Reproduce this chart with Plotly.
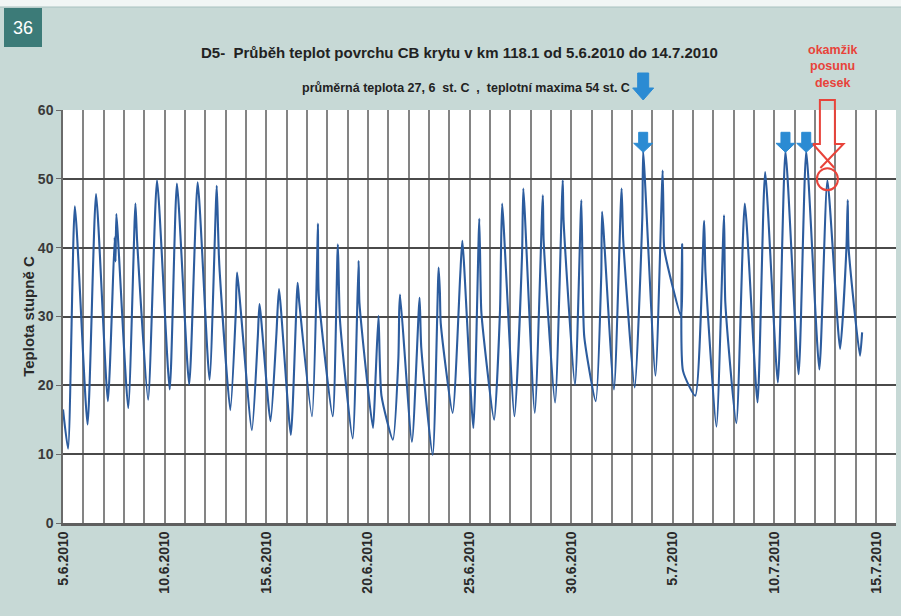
import plotly.graph_objects as go

# Surface temperature of the CB pavement, km 118.1 (readings: time, deg C)
times = [
    "2010-06-05 00:00", "2010-06-05 06:00", "2010-06-05 14:00",
    "2010-06-06 05:00", "2010-06-06 15:00",
    "2010-06-07 05:00", "2010-06-07 13:00", "2010-06-07 14:00", "2010-06-07 15:00",
    "2010-06-08 05:00", "2010-06-08 13:30", "2010-06-08 15:30",
    "2010-06-09 04:30", "2010-06-09 15:00",
    "2010-06-10 06:00", "2010-06-10 14:30",
    "2010-06-11 05:00", "2010-06-11 15:00",
    "2010-06-12 05:00", "2010-06-12 13:30", "2010-06-12 15:00", "2010-06-12 16:00", "2010-06-12 17:00",
    "2010-06-13 05:30", "2010-06-13 12:00", "2010-06-13 13:30",
    "2010-06-14 07:00", "2010-06-14 14:00", "2010-06-14 16:00",
    "2010-06-15 05:00", "2010-06-15 12:00", "2010-06-15 15:00",
    "2010-06-16 05:00", "2010-06-16 13:00", "2010-06-16 15:00",
    "2010-06-17 06:00", "2010-06-17 12:00", "2010-06-17 13:00", "2010-06-17 14:00",
    "2010-06-18 06:30", "2010-06-18 12:30", "2010-06-18 15:00",
    "2010-06-19 06:00", "2010-06-19 13:00", "2010-06-19 14:00",
    "2010-06-20 06:00", "2010-06-20 09:00", "2010-06-20 12:30", "2010-06-20 16:00",
    "2010-06-21 05:30", "2010-06-21 12:00", "2010-06-21 13:00", "2010-06-21 14:00",
    "2010-06-22 04:00", "2010-06-22 13:00", "2010-06-22 15:00",
    "2010-06-23 04:30", "2010-06-23 11:30", "2010-06-23 13:00", "2010-06-23 14:00",
    "2010-06-24 04:00", "2010-06-24 13:00", "2010-06-24 15:30",
    "2010-06-25 04:30", "2010-06-25 11:30", "2010-06-25 13:00", "2010-06-25 14:00",
    "2010-06-26 05:00", "2010-06-26 12:00", "2010-06-26 13:00", "2010-06-26 14:30",
    "2010-06-27 05:00", "2010-06-27 14:00", "2010-06-27 15:30",
    "2010-06-28 05:00", "2010-06-28 14:30", "2010-06-28 15:30",
    "2010-06-29 05:00", "2010-06-29 14:00", "2010-06-29 15:00",
    "2010-06-30 04:30", "2010-06-30 12:00", "2010-06-30 13:30", "2010-06-30 15:30",
    "2010-07-01 05:00", "2010-07-01 11:30", "2010-07-01 12:30",
    "2010-07-02 02:30", "2010-07-02 11:30", "2010-07-02 13:30",
    "2010-07-03 03:00", "2010-07-03 12:00", "2010-07-03 13:00",
    "2010-07-04 03:30", "2010-07-04 12:00", "2010-07-04 13:00", "2010-07-04 14:00",
    "2010-07-05 10:00", "2010-07-05 11:00", "2010-07-05 12:00",
    "2010-07-06 02:30", "2010-07-06 13:00", "2010-07-06 14:30",
    "2010-07-07 03:30", "2010-07-07 12:30", "2010-07-07 14:00",
    "2010-07-08 03:00", "2010-07-08 13:00",
    "2010-07-09 04:00", "2010-07-09 13:00",
    "2010-07-10 04:00", "2010-07-10 13:00",
    "2010-07-11 04:30", "2010-07-11 13:30",
    "2010-07-12 05:00", "2010-07-12 14:30",
    "2010-07-13 05:30", "2010-07-13 13:00", "2010-07-13 14:30", "2010-07-13 15:30",
    "2010-07-14 05:00", "2010-07-14 07:30",
]
temps = [
    16.5, 10.8, 46.0,
    14.3, 47.8,
    17.7, 41.5, 38.0, 44.9,
    16.7, 46.4, 41.0,
    17.9, 49.8,
    19.4, 49.3,
    20.1, 49.5,
    20.8, 49.0, 43.0, 39.0, 36.5,
    16.4, 30.5, 36.4,
    13.5, 27.0, 31.8,
    14.8, 27.5, 34.0,
    12.8, 34.9, 32.0,
    15.5, 38.0, 43.5, 33.0,
    15.5, 40.5, 29.5,
    12.3, 38.1, 32.0,
    13.8, 21.0, 30.1, 18.5,
    12.1, 24.0, 31.0, 33.2,
    11.8, 32.7, 25.5,
    9.9, 37.1, 33.5, 29.0,
    16.0, 36.0, 41.0,
    13.8, 44.2, 35.0, 30.5,
    15.0, 31.0, 38.5, 46.4,
    15.5, 39.0, 48.6,
    16.0, 47.6, 41.0,
    17.5, 49.8, 44.0,
    20.1, 46.9, 36.0, 27.0,
    17.7, 36.0, 45.2,
    19.4, 48.6, 41.0,
    19.7, 44.5, 54.0,
    21.4, 51.2, 44.4, 39.7,
    30.0, 40.5, 22.1,
    18.5, 43.9, 36.5,
    14.0, 44.7, 32.0,
    14.5, 46.4,
    17.5, 51.0,
    20.4, 54.0,
    21.6, 54.0,
    22.3, 49.8,
    25.3, 40.0, 46.9, 40.0,
    24.3, 27.7,
]

# Daily maxima flagged with arrows, and the maximum at the moment the slabs moved
marked_peaks = ["2010-07-03 13:00", "2010-07-10 13:00", "2010-07-11 13:30"]
shift_peak = "2010-07-12 14:30"

title_text = "D5-  Průběh teplot povrchu CB krytu v km 118.1 od 5.6.2010 do 14.7.2010"
subtitle_text = "průměrná teplota 27, 6  st. C  ,  teplotní maxima 54 st. C"
note_text = "okamžik<br>posunu<br>desek"
y_title = "Teplota stupně C"


def value_at(t):
    return temps[times.index(t)]


# Page geometry (pixels) -> paper fractions
W, H = 901, 616
ML, MR, MT, MB = 63, 5, 110, 93
PW, PH = W - ML - MR, H - MT - MB


def px(x):
    return (x - ML) / PW


def py(y):
    return (H - MB - y) / PH


NARROW = "Liberation Sans Narrow, Arial Narrow, Liberation Sans, Arial, sans-serif"
SANS = "Liberation Sans, Arial, sans-serif"
BLUE_ARROW = "#2b8bd3"
RED = "#e8433a"

fig = go.Figure()
fig.add_trace(go.Scatter(
    x=times, y=temps, mode="lines",
    line=dict(color="#2c5c9e", width=2.1, shape="spline", smoothing=0.55),
    hoverinfo="x+y", showlegend=False,
))

shapes = [
    # light strip along the top edge of the page
    dict(type="rect", xref="paper", yref="paper", x0=px(0), x1=px(W), y0=py(7), y1=py(0),
         fillcolor="#f1f6f5", line=dict(width=0), layer="below"),
    dict(type="line", xref="paper", yref="paper", x0=px(0), x1=px(W), y0=py(7), y1=py(7),
         line=dict(color="#a8c2bf", width=1)),
    # page-number badge
    dict(type="rect", xref="paper", yref="paper", x0=px(4), x1=px(42), y0=py(47), y1=py(8),
         fillcolor="#3c7b78", line=dict(width=0)),
]

# block arrows pointing down at the flagged maxima
down_arrow = "M -4.5,19 L 4.5,19 L 4.5,8 L 9.5,8 L 0,-1 L -9.5,8 L -4.5,8 Z"
for t in marked_peaks:
    shapes.append(dict(
        type="path", xref="x", yref="y", xsizemode="pixel", ysizemode="pixel",
        xanchor=t, yanchor=value_at(t), path=down_arrow,
        fillcolor=BLUE_ARROW, line=dict(color=BLUE_ARROW, width=1),
    ))

# arrow next to the subtitle, above the first 54 deg C maximum
shapes.append(dict(
    type="path", xref="x", yref="paper", xsizemode="pixel", ysizemode="pixel",
    xanchor=marked_peaks[0], yanchor=1,
    path="M -5.5,37 L 5.5,37 L 5.5,22 L 10.5,22 L 0,10 L -10.5,22 L -5.5,22 Z",
    fillcolor=BLUE_ARROW, line=dict(color=BLUE_ARROW, width=1),
))

# red outlined arrow and ring marking the slab shift
shapes.append(dict(
    type="path", xref="x", yref="paper", xsizemode="pixel", ysizemode="pixel",
    xanchor=shift_peak, yanchor=1,
    path="M -14.5,-34 L -7.5,-34 L -7.5,10 L 7.5,10 L 7.5,-34 L 16,-34 L -7,-58 "
         "M -14.5,-34 L 7,-58",
    line=dict(color=RED, width=2),
))
shapes.append(dict(
    type="circle", xref="x", yref="y", xsizemode="pixel", ysizemode="pixel",
    xanchor=shift_peak, yanchor=value_at(shift_peak),
    x0=-10.5, x1=10.5, y0=-10, y1=12,
    line=dict(color=RED, width=2),
))

annotations = [
    dict(text="36", xref="paper", yref="paper", x=px(23), y=py(28),
         xanchor="center", yanchor="middle", showarrow=False,
         font=dict(family=SANS, size=18, color="white")),
    dict(text=title_text, xref="paper", yref="paper", x=px(459), y=py(53),
         xanchor="center", yanchor="middle", showarrow=False,
         font=dict(family=NARROW, size=15, color="#222222", weight="bold")),
    dict(text=subtitle_text, xref="paper", yref="paper", x=px(466), y=py(88),
         xanchor="center", yanchor="middle", showarrow=False,
         font=dict(family=NARROW, size=12.5, color="#222222", weight="bold")),
    dict(text=note_text, xref="paper", yref="paper", x=px(832), y=py(66),
         xanchor="center", yanchor="middle", showarrow=False,
         font=dict(family=NARROW, size=12.5, color=RED, weight="bold")),
]

fig.update_layout(
    width=W, height=H,
    margin=dict(l=ML, r=MR, t=MT, b=MB, pad=0),
    paper_bgcolor="#c7d9d6",
    plot_bgcolor="white",
    showlegend=False,
    shapes=shapes,
    annotations=annotations,
    xaxis=dict(
        type="date",
        range=["2010-06-05 00:00", "2010-07-15 23:30"],
        tick0="2010-06-05", dtick=5 * 86400000,
        tickformat="%-d.%-m.%Y", tickangle=-90,
        tickfont=dict(family=SANS, size=14, color="#2a2a2a", weight="bold"),
        showgrid=True, gridcolor="#848484", gridwidth=1.6,
        minor=dict(dtick=86400000, showgrid=True, gridcolor="#848484", gridwidth=1.6),
        showline=True, linecolor="#5f5f5f", linewidth=2.5,
        ticks="", zeroline=False,
    ),
    yaxis=dict(
        range=[0, 60], dtick=10,
        tickfont=dict(family=NARROW, size=14, color="#3a3a3a", weight="bold"),
        showgrid=True, gridcolor="#4a4a4a", gridwidth=1.5,
        showline=True, linecolor="#6a6a6a", linewidth=1.5,
        ticks="outside", ticklen=5, tickcolor="#6a6a6a",
        zeroline=False,
        title=dict(text=y_title, standoff=0,
                   font=dict(family=SANS, size=15, color="#2a2a2a", weight="bold")),
    ),
)

fig.write_html("out.html")
